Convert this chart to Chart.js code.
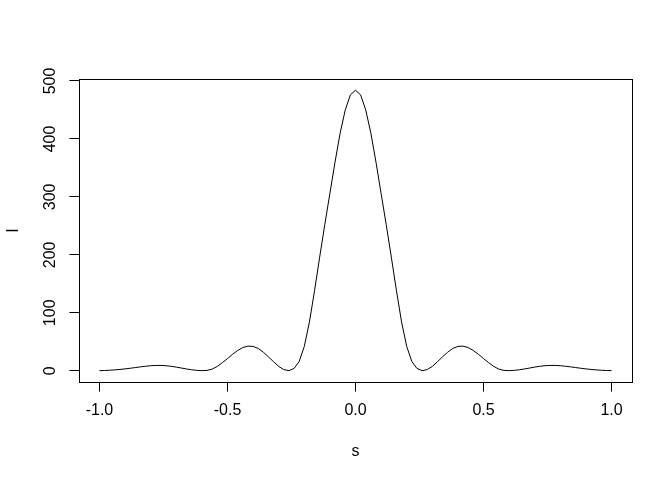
<!DOCTYPE html>
<html>
<head>
<meta charset="utf-8">
<script src="https://cdn.jsdelivr.net/npm/chart.js@4.4.0/dist/chart.umd.min.js"></script>
<style>
  html, body { margin: 0; padding: 0; background: #fff; }
  #wrap { width: 672px; height: 480px; }
</style>
</head>
<body>
<div id="wrap"><canvas id="plot" width="672" height="480"></canvas></div>
<script>
// s positions (step 0.02) and intensity
const sValues = [
  -1.00, -0.98, -0.96, -0.94, -0.92, -0.90, -0.88, -0.86, -0.84, -0.82,
  -0.80, -0.78, -0.76, -0.74, -0.72, -0.70, -0.68, -0.66, -0.64, -0.62,
  -0.60, -0.58, -0.56, -0.54, -0.52, -0.50, -0.48, -0.46, -0.44, -0.42,
  -0.40, -0.38, -0.36, -0.34, -0.32, -0.30, -0.28, -0.26, -0.24, -0.22,
  -0.20, -0.18, -0.16, -0.14, -0.12, -0.10, -0.08, -0.06, -0.04, -0.02,
  0.00,
  0.02, 0.04, 0.06, 0.08, 0.10, 0.12, 0.14, 0.16, 0.18, 0.20,
  0.22, 0.24, 0.26, 0.28, 0.30, 0.32, 0.34, 0.36, 0.38, 0.40,
  0.42, 0.44, 0.46, 0.48, 0.50, 0.52, 0.54, 0.56, 0.58, 0.60,
  0.62, 0.64, 0.66, 0.68, 0.70, 0.72, 0.74, 0.76, 0.78, 0.80,
  0.82, 0.84, 0.86, 0.88, 0.90, 0.92, 0.94, 0.96, 0.98, 1.00
]
const iValues = [
  0.2, 0.4, 0.9, 1.5, 2.3, 3.2, 4.3, 5.5, 6.7, 7.8,
  8.7, 9.2, 9.2, 8.7, 7.7, 6.3, 4.7, 3.1, 1.7, 0.7,
  0.2, 0.6, 2.8, 7.5, 14, 21, 28.5, 35, 40, 42.5,
  42, 38.5, 32, 24, 15.5, 7.5, 2, 0.2, 4, 16,
  42, 84, 138, 196, 252, 306, 360, 410, 450, 476,
  484,
  476, 450, 410, 360, 306, 252, 196, 138, 84, 42,
  16, 4, 0.2, 2, 7.5, 15.5, 24, 32, 38.5, 42,
  42.5, 40, 35, 28.5, 21, 14, 7.5, 2.8, 0.6, 0.2,
  0.7, 1.7, 3.1, 4.7, 6.3, 7.7, 8.7, 9.2, 9.2, 8.7,
  7.8, 6.7, 5.5, 4.3, 3.2, 2.3, 1.5, 0.9, 0.4, 0.2
]

const xTickVals = [-1, -0.5, 0, 0.5, 1]
const xTickLabels = ["-1.0", "-0.5", "0.0", "0.5", "1.0"]
const yTickVals = [0, 100, 200, 300, 400, 500]
const yTickLabels = ["0", "100", "200", "300", "400", "500"]
const xTitle = "s"
const yTitle = "I"

Chart.defaults.font.family = "'Liberation Sans', Arial, sans-serif"
Chart.defaults.font.size = 16
Chart.defaults.color = "#000"

// R-like box around the plot region, plus vertical y tick labels
const rStyle = {
  id: "rStyle",
  afterDraw(chart) {
    const ctx = chart.ctx
    const a = chart.chartArea
    ctx.save()
    ctx.strokeStyle = "#000"
    ctx.lineWidth = 1
    ctx.strokeRect(Math.round(a.left) + 0.5, Math.round(a.top) + 0.5,
      Math.round(a.right - a.left), Math.round(a.bottom - a.top))

    const y = chart.scales.y
    ctx.fillStyle = "#000"
    ctx.font = "16px 'Liberation Sans', Arial, sans-serif"
    ctx.textAlign = "center"
    ctx.textBaseline = "alphabetic"
    y.ticks.forEach((t, i) => {
      const py = y.getPixelForValue(t.value)
      ctx.save()
      ctx.translate(a.left - 24, py)
      ctx.rotate(-Math.PI / 2)
      ctx.fillText(yTickLabels[i], 0, 0)
      ctx.restore()
    })
    ctx.restore()
  }
}

const ctx = document.getElementById("plot").getContext("2d")
const chart = new Chart(ctx, {
  type: "line",
  data: {
    datasets: [{
      data: sValues.map((s, i) => ({ x: s, y: iValues[i] })),
      borderColor: "#000",
      borderWidth: 1,
      pointRadius: 0,
      tension: 0,
      fill: false
    }]
  },
  options: {
    responsive: false,
    animation: false,
    devicePixelRatio: 1,
    layout: { padding: { left: 0, top: 79, right: 40, bottom: 0 } },
    plugins: { legend: { display: false }, tooltip: { enabled: false } },
    scales: {
      x: {
        type: "linear",
        min: -1.08,
        max: 1.08,
        afterBuildTicks: (scale) => { scale.ticks = xTickVals.map(v => ({ value: v })) },
        afterFit: (scale) => { scale.height = 98 },
        ticks: {
          autoSkip: false,
          maxRotation: 0,
          padding: 9,
          callback: (v, i) => xTickLabels[i]
        },
        grid: { drawOnChartArea: false, drawTicks: true, tickLength: 9.6, color: "#000", lineWidth: 1 },
        border: { display: false },
        title: { display: true, text: xTitle, padding: { top: 0, bottom: 19 } }
      },
      y: {
        type: "linear",
        min: -19.4,
        max: 503.4,
        afterBuildTicks: (scale) => { scale.ticks = yTickVals.map(v => ({ value: v })) },
        afterFit: (scale) => { scale.width = 79 },
        ticks: { display: false },
        grid: { drawOnChartArea: false, drawTicks: true, tickLength: 9.6, color: "#000", lineWidth: 1 },
        border: { display: false },
        title: { display: true, text: yTitle, padding: { top: 3.5, bottom: 0 } }
      }
    }
  },
  plugins: [rStyle]
})
</script>
</body>
</html>
